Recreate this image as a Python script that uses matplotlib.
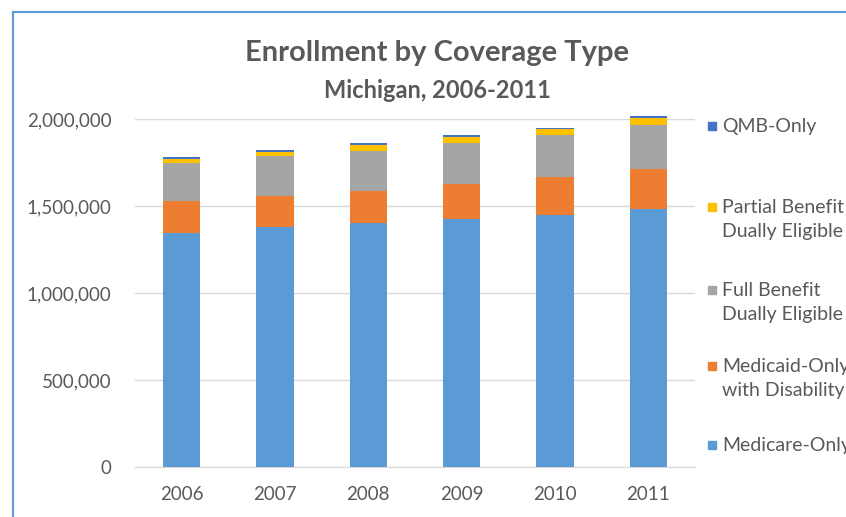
import numpy as np
import matplotlib.pyplot as plt
from matplotlib.patches import Rectangle
from matplotlib.ticker import FuncFormatter

years = ['2006', '2007', '2008', '2009', '2010', '2011']
medicare_only = [1345000, 1379000, 1402000, 1425000, 1448000, 1483000]
medicaid_disab = [182000, 180000, 184000, 200000, 217000, 228000]
full_dual = [222000, 228000, 232000, 239000, 245000, 256000]
partial_dual = [23000, 25000, 32000, 32000, 31000, 40000]
qmb_only = [9000, 10000, 10000, 10000, 7000, 10000]

series = [
    ('Medicare-Only', medicare_only, '#5B9BD5'),
    ('Medicaid-Only\nwith Disability', medicaid_disab, '#ED7D31'),
    ('Full Benefit\nDually Eligible', full_dual, '#A5A5A5'),
    ('Partial Benefit\nDually Eligible', partial_dual, '#FFC000'),
    ('QMB-Only', qmb_only, '#4472C4'),
]

plt.rcParams['font.family'] = ['Lato', 'DejaVu Sans']
txt = '#595959'

fig = plt.figure(figsize=(8.46, 5.17), dpi=100)
W, H = 846, 517
ax = fig.add_axes([135 / W, 1 - 467 / H, 560 / W, 348 / H])

x = np.arange(len(years))
bottom = np.zeros(len(years))
for name, vals, col in series:
    ax.bar(x, vals, width=0.4, bottom=bottom, color=col, zorder=3,
           clip_on=False)
    bottom += np.array(vals)

ax.set_xlim(-0.5, len(years) - 0.5)
ax.set_ylim(0, 2000000)
ax.set_yticks(np.arange(0, 2000001, 500000))
ax.yaxis.set_major_formatter(FuncFormatter(lambda v, p: '{:,.0f}'.format(v)))
ax.set_xticks(x)
ax.set_xticklabels(years)
ax.grid(axis='y', color='#D9D9D9', linewidth=1, zorder=0)
for s in ['top', 'right', 'left']:
    ax.spines[s].set_visible(False)
ax.spines['bottom'].set_color('#D9D9D9')
ax.tick_params(length=0, labelsize=13.5, colors=txt)
ax.tick_params(axis='y', pad=17)
ax.tick_params(axis='x', pad=14)

fig.text(437 / W, 1 - 53 / H, 'Enrollment by Coverage Type', ha='center',
         va='center', fontsize=21, fontweight='bold', color=txt)
fig.text(437 / W, 1 - 90 / H, 'Michigan, 2006-2011', ha='center',
         va='center', fontsize=17, fontweight='bold', color=txt)

# legend, top entry first
leg_y = [126, 207, 290, 366, 445]
for (name, vals, col), ly in zip(series[::-1], leg_y):
    fig.patches.append(Rectangle((708 / W, 1 - (ly + 4) / H), 8 / W, 8 / H,
                                 transform=fig.transFigure, color=col))
    fig.text(722 / W, 1 - (ly - 8) / H, name, ha='left', va='top',
             fontsize=14, color=txt, linespacing=1.5)

# chart frame
fig.add_artist(plt.Line2D([12.5 / W, 12.5 / W], [0, 1 - 12 / H],
                          transform=fig.transFigure, color='#5B9BD5', lw=1.5))
fig.add_artist(plt.Line2D([12.5 / W, 1], [1 - 12 / H, 1 - 12 / H],
                          transform=fig.transFigure, color='#5B9BD5', lw=1.5))

fig.savefig('out.png', dpi=100)
